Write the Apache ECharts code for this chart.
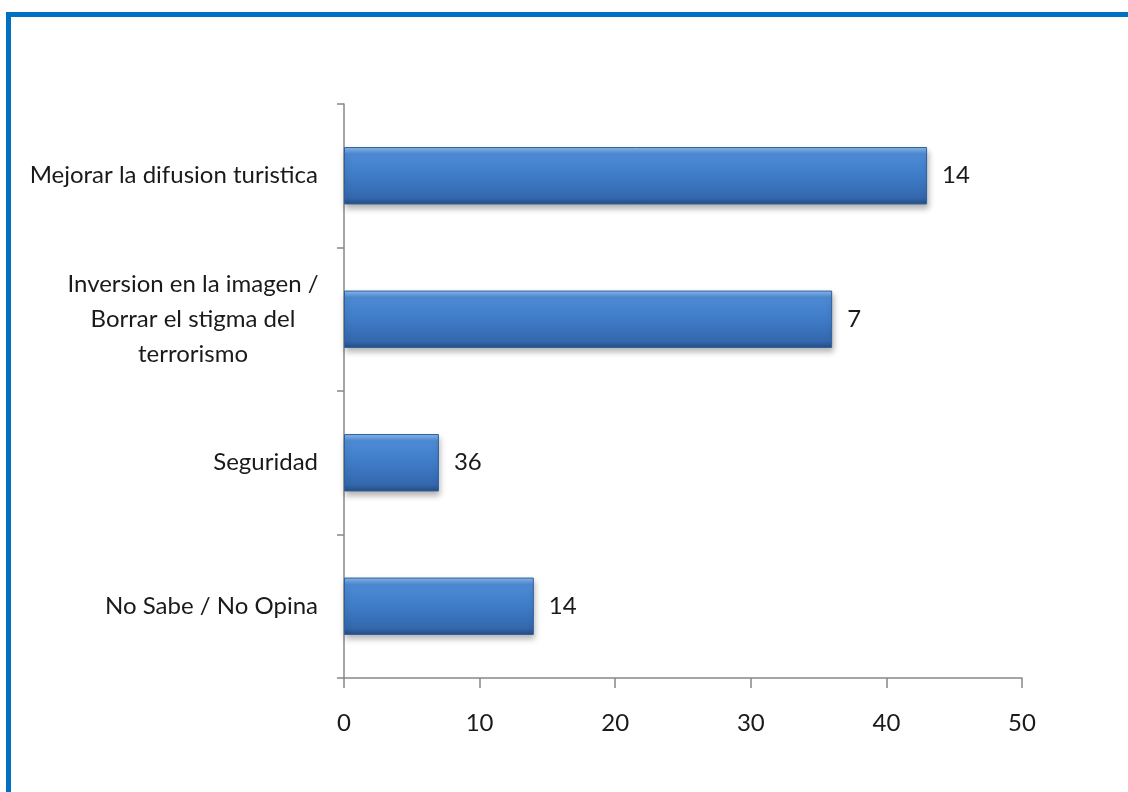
<!DOCTYPE html>
<html><head><meta charset="utf-8">
<script src="https://cdn.jsdelivr.net/npm/echarts@6/dist/echarts.min.js"></script>
<style>html,body{margin:0;padding:0;background:#fff}#c{width:1128px;height:792px}</style>
</head><body><div id="c"></div>
<script>
const categories = ['No Sabe / No Opina', 'Seguridad', 'Inversion en la imagen /\nBorrar el stigma del\nterrorismo', 'Mejorar la difusion turistica'];
const values = [14, 7, 36, 43];
const labelTexts = ['14', '36', '7', '14'];
const xTicks = [0, 10, 20, 30, 40, 50];

const FONT = 'Lato';
const FS = 24;
const chart = echarts.init(document.getElementById('c'));
chart.setOption({
  animation: false,
  backgroundColor: '#fff',
  graphic: [{
    type: 'rect', silent: true,
    shape: {x: 8.5, y: 14.5, width: 1300, height: 900},
    style: {fill: 'none', stroke: '#0070c0', lineWidth: 5}
  }],
  grid: {left: 344, right: 106, top: 104, bottom: 114, containLabel: false},
  xAxis: {
    type: 'value', min: xTicks[0], max: xTicks[xTicks.length - 1], interval: 10,
    splitLine: {show: false},
    axisLine: {show: true, lineStyle: {color: '#888', width: 1.5}},
    axisTick: {show: true, length: 10, lineStyle: {color: '#888', width: 1.5}},
    axisLabel: {color: '#1a1a1a', fontFamily: FONT, fontSize: FS, margin: 33}
  },
  yAxis: {
    type: 'category', data: categories,
    axisLine: {show: true, lineStyle: {color: '#888', width: 1.5}},
    axisTick: {show: true, length: 7, lineStyle: {color: '#888', width: 1.5}},
    axisLabel: {
      color: '#1a1a1a', fontFamily: FONT, fontSize: FS, margin: 26, lineHeight: 35,
      formatter: v => v.indexOf('\n') >= 0 ? v.split('\n').map(l => '{c|' + l + '}').join('\n') : v,
      rich: {c: {width: 250, align: 'center', fontFamily: FONT, fontSize: FS, color: '#1a1a1a', lineHeight: 35}}
    }
  },
  series: [{
    type: 'bar', data: values, barCategoryGap: '60%',
    itemStyle: {
      color: new echarts.graphic.LinearGradient(0, 0, 0, 1, [
        {offset: 0, color: '#8dbcf0'},
        {offset: 0.12, color: '#4f8bd6'},
        {offset: 0.5, color: '#3f7cc8'},
        {offset: 0.88, color: '#3468ad'},
        {offset: 1, color: '#264d84'}
      ]),
      borderColor: '#2f5f9a', borderWidth: 1,
      shadowColor: 'rgba(0,0,0,0.3)', shadowBlur: 6, shadowOffsetY: 4, shadowOffsetX: 1
    },
    label: {
      show: true, position: 'right', distance: 15,
      color: '#1a1a1a', fontFamily: FONT, fontSize: FS,
      formatter: p => labelTexts[p.dataIndex]
    }
  }]
});
</script></body></html>
